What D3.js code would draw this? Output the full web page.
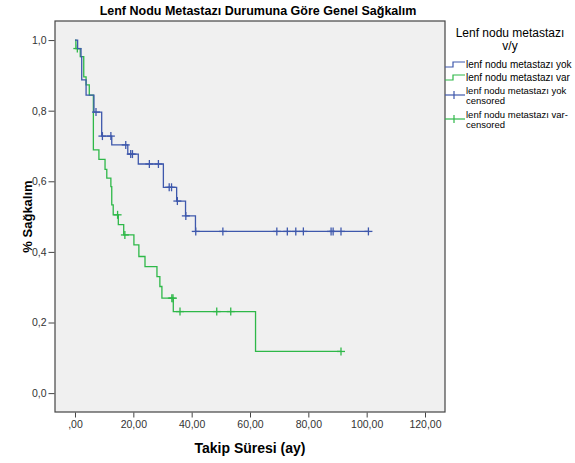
<!DOCTYPE html>
<html>
<head>
<meta charset="utf-8">
<script src="https://cdn.jsdelivr.net/npm/d3@7"></script>
<style>
  body { margin: 0; background: #fff; }
  text { font-family: Arial, "Liberation Sans", sans-serif; }
</style>
</head>
<body>
<div id="chart"></div>
<script>
// Kaplan-Meier steps
const yokEventTimes = [0, 0.9, 2.06, 2.3, 3.8, 6.5, 9.15, 12.6, 18.1, 21.7, 30.3, 34.85, 37.9, 41.3];
const yokSurvival   = [1.0, 0.976, 0.953, 0.887, 0.844, 0.796, 0.728, 0.703, 0.677, 0.649, 0.583, 0.544, 0.502, 0.458];
const yokCensorTimes = [7.2, 9.4, 12.3, 17.4, 19.1, 19.7, 25.5, 28.6, 32.3, 33.1, 35.1, 38.0, 41.4, 50.7, 69.2, 72.8, 75.7, 78.3, 87.8, 88.5, 91.2, 100.6];

const varEventTimes = [0, 0.3, 1.8, 3.0, 3.8, 4.9, 6.3, 8.2, 10.3, 10.9, 12.3, 12.6, 13.1, 14.85, 16.7, 20.2, 21.9, 24.0, 28.1, 29.1, 29.8, 33.7, 61.9];
const varSurvival   = [1.0, 0.976, 0.953, 0.896, 0.873, 0.844, 0.689, 0.662, 0.634, 0.609, 0.585, 0.533, 0.505, 0.477, 0.448, 0.420, 0.387, 0.358, 0.330, 0.302, 0.269, 0.231, 0.118];
const varCensorTimes = [0.8, 14.6, 17.1, 33.2, 33.6, 36.0, 48.6, 53.4, 91.2];

const xTicks = [0, 20, 40, 60, 80, 100, 120];
const yTicks = [0, 0.2, 0.4, 0.6, 0.8, 1.0];
const legendLabels = ["lenf nodu metastazı yok", "lenf nodu metastazı var",
                      "lenf nodu metastazı yok", "lenf nodu metastazı var-"];

const blue = "#3e58ac", green = "#2eb848";

// set the dimensions and margins of the plot box
const margin = {top: 21, left: 55},
    width = 390,
    height = 391;

const svg = d3.select("#chart")
  .append("svg")
    .attr("width", 575)
    .attr("height", 463);

const x = d3.scaleLinear().domain([-6.857, 126.857]).range([margin.left, margin.left + width]);
const y = d3.scaleLinear().domain([-0.0535, 1.054]).range([margin.top + height, margin.top]);

// plot background + frame
svg.append("rect")
  .attr("x", margin.left).attr("y", margin.top)
  .attr("width", width).attr("height", height)
  .attr("fill", "#f0f0f0")
  .attr("stroke", "#444")
  .attr("stroke-width", 1.2);

// y axis
const yAxis = svg.append("g")
  .attr("transform", "translate(" + (margin.left - 0.5) + ",0)")
  .call(d3.axisLeft(y).tickValues(yTicks).tickSize(6).tickPadding(2).tickSizeOuter(0)
    .tickFormat(d => d3.format(".1f")(d).replace(".", ",")));
yAxis.select(".domain").remove();
yAxis.selectAll("text").attr("font-size", 10.5).attr("fill", "#333").attr("font-family", "Arial, 'Liberation Sans'");
yAxis.selectAll("line").attr("stroke", "#444");

// x axis
const xAxis = svg.append("g")
  .attr("transform", "translate(0," + (margin.top + height + 0.5) + ")")
  .call(d3.axisBottom(x).tickValues(xTicks).tickSize(5).tickPadding(3).tickSizeOuter(0)
    .tickFormat(d => d === 0 ? ",00" : d3.format(".2f")(d).replace(".", ",")));
xAxis.select(".domain").remove();
xAxis.selectAll("text").attr("font-size", 10.5).attr("fill", "#333").attr("font-family", "Arial, 'Liberation Sans'");
xAxis.selectAll("line").attr("stroke", "#444");

// step curves
function stepPoints(times, surv, censors) {
  const pts = times.map((t, i) => [t, surv[i]]);
  const last = d3.max(censors);
  if (last > times[times.length - 1]) pts.push([last, surv[surv.length - 1]]);
  return pts;
}
function survAt(times, surv, t) {
  const i = d3.bisectRight(times, t) - 1;
  return surv[Math.max(0, i)];
}

const line = d3.line()
  .x(d => x(d[0]))
  .y(d => y(d[1]))
  .curve(d3.curveStepAfter);

const groups = [
  {times: varEventTimes, surv: varSurvival, censors: varCensorTimes, color: green},
  {times: yokEventTimes, surv: yokSurvival, censors: yokCensorTimes, color: blue}
];

groups.forEach(g => {
  svg.append("path")
    .attr("d", line(stepPoints(g.times, g.surv, g.censors)))
    .attr("fill", "none")
    .attr("stroke", g.color)
    .attr("stroke-width", 1.3);

  const marks = svg.append("g")
    .selectAll("g")
    .data(g.censors)
    .enter()
    .append("g")
      .attr("transform", d => "translate(" + x(d) + "," + y(survAt(g.times, g.surv, d)) + ")");
  marks.append("line")
    .attr("x1", 0).attr("x2", 0).attr("y1", -4).attr("y2", 4)
    .attr("stroke", g.color).attr("stroke-width", 1.3);
  marks.append("line")
    .attr("x1", -4).attr("x2", 4).attr("y1", 0).attr("y2", 0)
    .attr("stroke", g.color).attr("stroke-width", 1.3);
});

// titles
svg.append("text")
  .attr("x", 258).attr("y", 15)
  .attr("text-anchor", "middle")
  .attr("font-size", 12.5).attr("font-weight", "bold")
  .text("Lenf Nodu Metastazı Durumuna Göre Genel Sağkalım");

svg.append("text")
  .attr("x", margin.left + width / 2).attr("y", 453)
  .attr("text-anchor", "middle")
  .attr("font-size", 14).attr("font-weight", "bold")
  .text("Takip Süresi (ay)");

svg.append("text")
  .attr("transform", "translate(27," + (margin.top + height / 2) + ") rotate(-90)")
  .attr("text-anchor", "middle")
  .attr("dy", "0.35em")
  .attr("font-size", 13).attr("font-weight", "bold")
  .text("% Sağkalım");

// legend
const lg = svg.append("g");
lg.append("text").attr("x", 510).attr("y", 37).attr("text-anchor", "middle")
  .attr("font-size", 12).text("Lenf nodu metastazı");
lg.append("text").attr("x", 510).attr("y", 50).attr("text-anchor", "middle")
  .attr("font-size", 12).text("v/y");

const legendColors = [blue, green, blue, green];
const legendY = [64, 77, 95, 119];
legendLabels.forEach((lab, i) => {
  const cy = legendY[i];
  if (i < 2) {
    lg.append("path")
      .attr("d", "M445," + (cy + 3) + "H453V" + (cy - 2) + "H465")
      .attr("fill", "none").attr("stroke", legendColors[i]).attr("stroke-width", 1.2);
    lg.append("text").attr("x", 466).attr("y", cy + 3.5)
      .attr("font-size", 10).text(lab);
  } else {
    lg.append("line").attr("x1", 445).attr("x2", 465).attr("y1", cy).attr("y2", cy)
      .attr("stroke", legendColors[i]).attr("stroke-width", 1.2);
    lg.append("line").attr("x1", 454).attr("x2", 454).attr("y1", cy - 4).attr("y2", cy + 4)
      .attr("stroke", legendColors[i]).attr("stroke-width", 1.2);
    lg.append("text").attr("x", 466).attr("y", cy - 1.5)
      .attr("font-size", 9.5).text(lab);
    lg.append("text").attr("x", 466).attr("y", cy + 8.5)
      .attr("font-size", 9.5).text("censored");
  }
});
</script>
</body>
</html>
